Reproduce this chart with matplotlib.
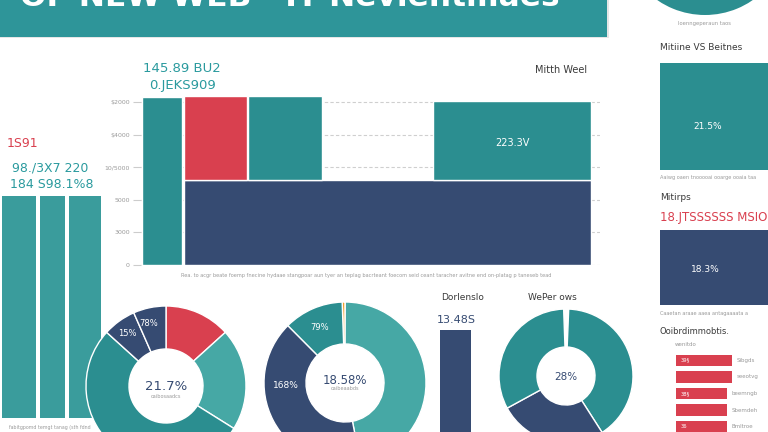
import matplotlib
matplotlib.use("Agg")
import matplotlib.pyplot as plt
from matplotlib.patches import Rectangle

W, H = 768, 432

# colours
TEAL = "#2b8e90"
TEAL_LT = "#46a8a5"
TEAL_BAR = "#3a9c9c"
NAVY = "#364b72"
RED = "#d9404f"
ORANGE = "#f0a030"
DARK = "#3a3a3a"
GREY = "#9a9a9a"
NUM_TEAL = "#2a9a9e"

# ---- data ----
# main mosaic bar chart (x in chart units, y in $)
main_left = [0.5, 42.5, 42.5, 107, 292]
main_width = [40, 407.5, 63.5, 74, 158]
main_bottom = [0, 0, 26000, 26000, 26000]
main_height = [51600, 26000, 26000, 26000, 24300]
main_colors = [TEAL, NAVY, RED, TEAL, TEAL]
main_ticks = [0, 10000, 20000, 30000, 40000, 50000]
main_ticklabels = ["0", "3000", "5000", "10/5000", "$4000", "$2000"]

# left small bars
left_pos = [19, 52.5, 85]
left_width = [34, 25, 32]
left_vals = [100, 100, 100]

# donuts (shares clockwise from the top)
donut1_vals = [13.3, 20.6, 52.8, 6.7, 6.6]
donut1_cols = [RED, TEAL_LT, TEAL, NAVY, NAVY]
donut2_vals = [0.6, 46.9, 40.6, 11.9]
donut2_cols = [ORANGE, TEAL_LT, NAVY, TEAL]
donut3_vals = [1.2, 40.3, 26.1, 32.4]
donut3_cols = ["white", TEAL, NAVY, TEAL]

# right panel
tile1_val = 21.5
tile2_val = 18.3
hbar_vals = [0.61, 0.61, 0.55, 0.55, 0.55]
hbar_text = ["39§", "", "38§", "", "36"]
hbar_labels = ["Sibgds", "seeotvg", "beemngb", "Sbemdeh", "Bmltroe"]
donor_val = 13.48


def box(x0, y0, x1, y1):
    # pixel box (top-left origin) -> figure axes
    return fig.add_axes([x0 / W, 1 - y1 / H, (x1 - x0) / W, (y1 - y0) / H])


def txt(x, y, s, **kw):
    fig.text(x / W, 1 - y / H, s, **kw)


fig = plt.figure(figsize=(W / 100, H / 100), dpi=100)
fig.patch.set_facecolor("white")

# title banner
fig.patches.append(Rectangle((0, 1 - 38 / H), 609 / W, 38 / H, transform=fig.transFigure,
                             facecolor="#e6e6e6", edgecolor="none"))
fig.patches.append(Rectangle((0, 1 - 37 / H), 607 / W, 37 / H, transform=fig.transFigure,
                             facecolor="#2e9599", edgecolor="none"))
txt(290, 6, "OF NEW WEB · IT Nevientmaes", color="white", fontsize=22.5,
    fontweight="bold", ha="center", va="baseline")

# main chart
ax = box(141, 90, 600, 265)
ax.bar(main_left, main_height, width=main_width, bottom=main_bottom, align="edge",
       color=main_colors, edgecolor="white", linewidth=1, zorder=3)
ax.set_xlim(0, 459)
ax.set_ylim(0, 53700)
ax.set_yticks(main_ticks)
ax.set_yticklabels(main_ticklabels)
ax.tick_params(axis="y", labelsize=4.5, labelcolor=GREY, color="#cccccc", length=6, pad=2)
ax.set_xticks([])
ax.grid(axis="y", linestyle=(0, (3, 2)), color="#cfcfcf", linewidth=0.8, zorder=0)
for s in ax.spines.values():
    s.set_visible(False)
ax.text(371, 37500, "223.3V", color="white", fontsize=7, ha="center", va="center", zorder=4)
txt(182, 69, "145.89 BU2", color=NUM_TEAL, fontsize=9.5, ha="center", va="center")
txt(183, 86, "0.JEKS909", color=NUM_TEAL, fontsize=9.5, ha="center", va="center")
txt(587, 70, "Mitth Weel", color=DARK, fontsize=7, ha="right", va="center")
txt(366, 276, "Rea. to acgr beate foemp fnecine hydaae stangpoar aun tyer an teplag bacrteant "
    "foecom seid ceant taracher avitne end on-platag p taneseb tead",
    color=GREY, fontsize=3.6, ha="center", va="center")

# left bars
axl = box(0, 196, 104, 418)
axl.bar(left_pos, left_vals, width=left_width, color=TEAL_BAR)
axl.set_xlim(0, 104)
axl.set_ylim(0, 100)
axl.axis("off")
txt(22, 143, "1S91", color=RED, fontsize=9, ha="center", va="center")
txt(50, 168, "98./3X7 220", color=NUM_TEAL, fontsize=9, ha="center", va="center")
txt(52, 185, "184 S98.1%8", color=NUM_TEAL, fontsize=9, ha="center", va="center")
txt(50, 427, "fabitgpomd temgt tanag (sth fdnd", color=GREY, fontsize=3.4,
    ha="center", va="center")


def donut(cx, cy, r, rin, vals, cols, start):
    a = box(cx - r, cy - r, cx + r, cy + r)
    a.pie(vals, colors=cols, startangle=start, counterclock=False, radius=1,
          wedgeprops=dict(width=1 - rin / r, edgecolor="white", linewidth=1))
    a.set_xlim(-1, 1)
    a.set_ylim(-1, 1)
    a.set_aspect("equal")
    a.axis("off")
    return a


donut(166, 386, 80, 37, donut1_vals, donut1_cols, 90)
txt(166, 386, "21.7%", color=NAVY, fontsize=9.5, ha="center", va="center")
txt(166, 397, "caibosaadcs", color=GREY, fontsize=3.6, ha="center", va="center")
txt(149, 323, "78%", color="white", fontsize=6, ha="center", va="center")
txt(127, 333, "15%", color="white", fontsize=6, ha="center", va="center")

donut(345, 383, 81, 39, donut2_vals, donut2_cols, 92)
txt(345, 380, "18.58%", color=NAVY, fontsize=8.5, ha="center", va="center")
txt(345, 389, "caibeaabds", color=GREY, fontsize=3.6, ha="center", va="center")
txt(320, 327, "79%", color="white", fontsize=6, ha="center", va="center")
txt(286, 386, "168%", color="white", fontsize=6.5, ha="center", va="center")

donut(566, 376, 67, 29, donut3_vals, donut3_cols, 92)
txt(566, 377, "28%", color=NAVY, fontsize=7.5, ha="center", va="center")
txt(552, 297, "WePer ows", color=DARK, fontsize=6.5, ha="center", va="center")

# navy single bar
axd = box(440, 330, 471, 432)
axd.bar([0], [donor_val], width=1, color=NAVY)
axd.set_xlim(-0.5, 0.5)
axd.set_ylim(0, donor_val)
axd.axis("off")
txt(463, 297, "Dorlenslo", color=DARK, fontsize=6.5, ha="center", va="center")
txt(456, 320, "13.48S", color=NAVY, fontsize=8, ha="center", va="center")

# top-right circle
axc = box(621, -153, 789, 15)
axc.pie([100], colors=[TEAL], radius=1)
axc.set_xlim(-1, 1)
axc.set_ylim(-1, 1)
axc.set_aspect("equal")
axc.axis("off")
txt(704, 24, "Ioenngeperaun taos", color=GREY, fontsize=3.8, ha="center", va="center")

# right tiles
txt(660, 47, "Mitiine VS Beitnes", color=DARK, fontsize=6.5, ha="left", va="center")
at1 = box(660, 63, 768, 170)
at1.bar([0], [tile1_val], width=1, color=TEAL)
at1.set_xlim(-0.5, 0.5)
at1.set_ylim(0, tile1_val)
at1.axis("off")
txt(708, 126, "21.5%", color="white", fontsize=6.5, ha="center", va="center")
txt(660, 178, "Aaiwg oaen tnooooai ooarge ooaia taa", color=GREY, fontsize=3.6,
    ha="left", va="center")

txt(660, 198, "Mitirps", color=DARK, fontsize=6.5, ha="left", va="center")
txt(660, 218, "18.JTSSSSSS MSIO", color=RED, fontsize=8.5, ha="left", va="center")
at2 = box(660, 230, 768, 305)
at2.bar([0], [tile2_val], width=1, color=NAVY)
at2.set_xlim(-0.5, 0.5)
at2.set_ylim(0, tile2_val)
at2.axis("off")
txt(705, 270, "18.3%", color="white", fontsize=6.5, ha="center", va="center")
txt(660, 314, "Caaetan araae aaea antagaaaata a", color=GREY, fontsize=3.6,
    ha="left", va="center")

txt(660, 331, "Ooibrdimmobtis.", color=DARK, fontsize=6, ha="left", va="center")
txt(675, 344, "wenitdo", color=GREY, fontsize=4, ha="left", va="center")

ah = box(676, 352, 768, 435)
ypos = list(range(len(hbar_vals)))
ah.barh(ypos, hbar_vals, height=0.68, color=RED)
for y, v, t, lab in zip(ypos, hbar_vals, hbar_text, hbar_labels):
    ah.text(0.05, y, t, color="white", fontsize=3.8, va="center")
    ah.text(v + 0.05, y, lab, color=GREY, fontsize=4, va="center")
ah.set_xlim(0, 1)
ah.set_ylim(len(hbar_vals) - 0.5, -0.5)
ah.axis("off")

fig.savefig("out.png", dpi=100)
